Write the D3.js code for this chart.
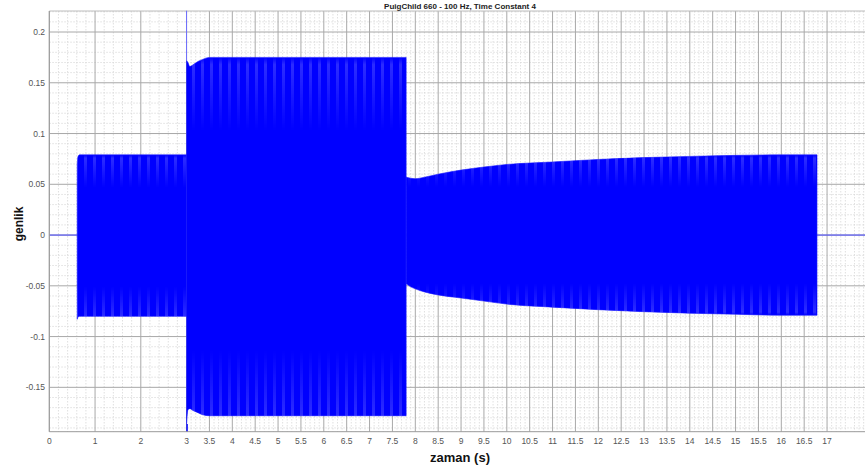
<!DOCTYPE html>
<html>
<head>
<meta charset="utf-8">
<script src="https://cdn.jsdelivr.net/npm/d3@7/dist/d3.min.js"></script>
<style>
  html, body { margin: 0; padding: 0; background: #fff; }
  svg { display: block; font-family: "Liberation Sans", Arial, Helvetica, sans-serif; }
</style>
</head>
<body>
<svg id="chart" width="865" height="472"></svg>
<script>
// Tick labels
const xTicks = [0, 1, 2, 3, 3.5, 4, 4.5, 5, 5.5, 6, 6.5, 7, 7.5, 8, 8.5, 9, 9.5, 10, 10.5,
                11, 11.5, 12, 12.5, 13, 13.5, 14, 14.5, 15, 15.5, 16, 16.5, 17];
const yTicks = [-0.15, -0.1, -0.05, 0, 0.05, 0.1, 0.15, 0.2];

// Signal envelope (upper / lower peaks of the 100 Hz response), burst 1
const burst1Time  = [0.61, 0.625, 0.66, 0.75, 1.0, 2.0, 3.0];
const burst1Upper = [0.070, 0.077, 0.079, 0.079, 0.079, 0.079, 0.079];
const burst1Lower = [-0.083, -0.081, -0.080, -0.080, -0.080, -0.080, -0.080];

// Burst 2 (step at t = 3 s)
const burst2Time  = [3.0, 3.03, 3.07, 3.15, 3.25, 3.35, 3.5, 5.0, 7.0, 7.8];
const burst2Upper = [0.172, 0.170, 0.166, 0.168, 0.171, 0.173, 0.175, 0.175, 0.175, 0.175];
const burst2Lower = [-0.186, -0.172, -0.171, -0.173, -0.175, -0.177, -0.178, -0.178, -0.178, -0.178];

// Onset transient at t = 3 s
const spikeTime = [3.0];
const spikeMax = [0.221];
const spikeMin = [-0.194];

// Burst 3 (slow recovery)
const burst3Time  = [7.8, 7.9, 8.0, 8.2, 8.5, 9.0, 9.5, 10.0, 11.0, 12.0, 13.0, 14.0, 15.0, 16.0, 16.78];
const burst3Upper = [0.057, 0.056, 0.0555, 0.057, 0.060, 0.064, 0.067, 0.0695, 0.072, 0.0745, 0.0763, 0.0775, 0.0785, 0.079, 0.079];
const burst3Lower = [-0.048, -0.051, -0.053, -0.056, -0.059, -0.062, -0.065, -0.068, -0.071, -0.0735, -0.0755, -0.077, -0.078, -0.079, -0.079];

// Silent stretches (signal at rest)
const restStart = [0, 0.61];
const restEnd = [16.78, 18];

const svg = d3.select("#chart");
const padL = 49.3, padR = 872.8, padT = 11, padB = 431.7;

const x = d3.scaleLinear().domain([0, 18]).range([padL, padR]);
const y = d3.scaleLinear().domain([-0.1937, 0.2207]).range([padB, padT]);

// Faint shading that hints at the aliased oscillation near the peaks
const defs = svg.append("defs");
const pat = defs.append("pattern").attr("id", "streaks").attr("patternUnits", "userSpaceOnUse")
  .attr("width", 9).attr("height", 40);
pat.append("rect").attr("width", 9).attr("height", 40).attr("fill", "#0000ff");
pat.append("rect").attr("x", 3).attr("width", 3).attr("height", 40).attr("fill", "#5858ff");
const grad = defs.append("linearGradient").attr("id", "edgeFade")
  .attr("x1", 0).attr("x2", 0).attr("y1", 0).attr("y2", 1);
[[0, 0.0], [0.02, 0.5], [0.2, 0.0], [0.8, 0.0], [0.98, 0.5], [1, 0.0]].forEach(([o, a]) =>
  grad.append("stop").attr("offset", o).attr("stop-color", "#fff").attr("stop-opacity", a));

// Minor grid: 0.2 s before 3 s, 0.1 s afterwards; 0.01 vertically
const minorX = [];
for (let i = 1; i < 15; i++) { const v = +(i * 0.2).toFixed(2); if (v % 1 !== 0) minorX.push(v); }
for (let i = 31; i < 180; i++) { const v = +(i * 0.1).toFixed(2); if (Math.abs(v * 2 - Math.round(v * 2)) > 1e-6) minorX.push(v); }
const minorY = [];
for (let i = -19; i <= 22; i++) { const v = +(i * 0.01).toFixed(3); if (Math.abs(v * 20 - Math.round(v * 20)) > 1e-6) minorY.push(v); }

const grid = svg.append("g");
grid.selectAll("line.mx").data(minorX).join("line")
  .attr("x1", d => x(d)).attr("x2", d => x(d)).attr("y1", padT).attr("y2", padB)
  .attr("stroke", "#d8d8d8").attr("stroke-width", 0.8).attr("stroke-dasharray", "1.5,1.5");
grid.selectAll("line.my").data(minorY).join("line")
  .attr("x1", padL).attr("x2", 865).attr("y1", d => y(d)).attr("y2", d => y(d))
  .attr("stroke", "#d8d8d8").attr("stroke-width", 0.8).attr("stroke-dasharray", "1.5,1.5");
grid.selectAll("line.Mx").data(xTicks).join("line")
  .attr("x1", d => x(d)).attr("x2", d => x(d)).attr("y1", padT).attr("y2", padB)
  .attr("stroke", "#a8a8a8").attr("stroke-width", 1);
grid.selectAll("line.My").data(yTicks).join("line")
  .attr("x1", padL).attr("x2", 865).attr("y1", d => y(d)).attr("y2", d => y(d))
  .attr("stroke", "#a8a8a8").attr("stroke-width", 1);
// Top border
grid.append("line").attr("x1", padL).attr("x2", 865).attr("y1", padT).attr("y2", padT)
  .attr("stroke", "#bdbdbd").attr("stroke-width", 1);

// Signal
const plot = svg.append("g");
const area = d3.area().x(d => x(d.t)).y0(d => y(d.lo)).y1(d => y(d.hi)).curve(d3.curveMonotoneX);
function rows(ts, hs, ls) { return ts.map((t, i) => ({ t, hi: hs[i], lo: ls[i] })); }

plot.append("line")
  .attr("x1", x(restStart[0])).attr("x2", x(restStart[1])).attr("y1", y(0)).attr("y2", y(0))
  .attr("stroke", "#4040ff").attr("stroke-width", 1);
plot.append("line")
  .attr("x1", x(restEnd[0])).attr("x2", x(restEnd[1])).attr("y1", y(0)).attr("y2", y(0))
  .attr("stroke", "#4040ff").attr("stroke-width", 1);

[rows(burst1Time, burst1Upper, burst1Lower),
 rows(burst2Time, burst2Upper, burst2Lower),
 rows(burst3Time, burst3Upper, burst3Lower)].forEach((r, i) => {
  plot.append("path").datum(r).attr("d", area)
    .attr("fill", "#0000ff").attr("stroke", "#1a1aff").attr("stroke-width", 0.6);
  const m = defs.append("mask").attr("id", "fade" + i)
    .attr("maskContentUnits", "objectBoundingBox");
  m.append("rect").attr("width", 1).attr("height", 1).attr("fill", "url(#edgeFade)");
  plot.append("path").datum(r).attr("d", area)
    .attr("fill", "url(#streaks)").attr("mask", "url(#fade" + i + ")");
});

// Onset transient
plot.append("line")
  .attr("x1", x(spikeTime[0])).attr("x2", x(spikeTime[0]))
  .attr("y1", y(spikeMax[0])).attr("y2", y(burst2Upper[0]))
  .attr("stroke", "#6f6fff").attr("stroke-width", 1);
plot.append("line")
  .attr("x1", x(spikeTime[0]) + 0.5).attr("x2", x(spikeTime[0]) + 0.5)
  .attr("y1", y(burst2Lower[0])).attr("y2", y(spikeMin[0]))
  .attr("stroke", "#0000ff").attr("stroke-width", 1.5);

// Axes
const axisColor = "#9a9a9a";
svg.append("line").attr("x1", padL).attr("x2", padL).attr("y1", padT).attr("y2", padB)
  .attr("stroke", axisColor).attr("stroke-width", 1);
svg.append("line").attr("x1", padL).attr("x2", 865).attr("y1", padB).attr("y2", padB)
  .attr("stroke", axisColor).attr("stroke-width", 1);

const fmt = d => String(d);
svg.append("g").selectAll("text").data(xTicks).join("text")
  .attr("x", d => x(d)).attr("y", 444)
  .attr("text-anchor", "middle").attr("font-size", 8.5).attr("fill", "#555")
  .text(fmt);
svg.append("g").selectAll("text").data(yTicks).join("text")
  .attr("x", 45).attr("y", d => y(d) + 3)
  .attr("text-anchor", "end").attr("font-size", 8.5).attr("fill", "#555")
  .text(fmt);

// Titles
svg.append("text").attr("x", 460).attr("y", 8.5).attr("text-anchor", "middle")
  .attr("font-size", 8).attr("font-weight", "bold").attr("fill", "#222")
  .text("PuigChild 660 - 100 Hz, Time Constant 4");
svg.append("text").attr("x", 460).attr("y", 462).attr("text-anchor", "middle")
  .attr("font-size", 13).attr("font-weight", "bold").attr("fill", "#111")
  .text("zaman (s)");
svg.append("text").attr("transform", "translate(23,224) rotate(-90)").attr("text-anchor", "middle")
  .attr("font-size", 12).attr("font-weight", "bold").attr("fill", "#111")
  .text("genlik");
</script>
</body>
</html>
